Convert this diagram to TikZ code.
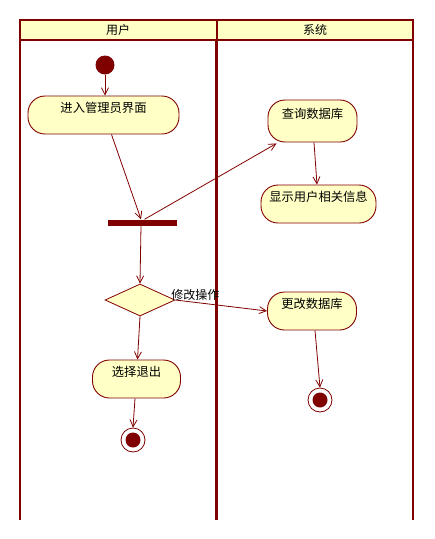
\documentclass[tikz,border=0pt]{standalone}
\usepackage{fontspec}
\setmainfont{Noto Sans CJK SC}
\usetikzlibrary{arrows.meta,shapes.geometric}
\definecolor{umlred}{HTML}{800000}
\definecolor{umlfill}{HTML}{FFFFC6}
\tikzset{
  lane/.style={draw=umlred, line width=2pt},
  divider/.style={draw=umlred, line width=3.6pt},
  activity/.style={draw=umlred, fill=umlfill, line width=0.9pt, rounded corners=17pt,
    inner sep=0pt, text height=10pt, text depth=16pt, font=\fontsize{12.3}{12}\selectfont},
  flow/.style={draw=umlred, line width=0.8pt, -{Straight Barb[length=7pt,width=7pt]}},
  startdot/.style={circle, fill=umlred, minimum size=19pt, inner sep=0pt},
  enddot/.style={circle, draw=umlred, fill=white, line width=0.8pt, minimum size=24pt, inner sep=0pt,
    path picture={\fill[umlred] (path picture bounding box.center) circle (7.5pt);}},
  forkbar/.style={fill=umlred, minimum width=69pt, minimum height=6pt, inner sep=0pt},
  choice/.style={diamond, draw=umlred, fill=umlfill, line width=0.8pt, aspect=2.2,
    minimum width=70pt, minimum height=32pt, inner sep=0pt},
  lanetitle/.style={font=\fontsize{12}{12}\selectfont, inner sep=0pt},
  guard/.style={font=\fontsize{12}{12}\selectfont, inner sep=0pt}
}
\begin{document}
\begin{tikzpicture}[x=1pt, y=-1pt]
  \useasboundingbox (0,0) rectangle (435,539);
  % swimlane frame
  \fill[umlfill] (20,20) rectangle (413,40);
  \draw[lane] (20,520) -- (20,20) -- (413,20) -- (413,520);
  \draw[lane] (20,40) -- (413,40);
  \draw[lane] (216.5,20) -- (216.5,40);
  \draw[divider] (216.5,40) -- (216.5,520);
  \node[lanetitle] (laneuser) at (118,30) {用户};
  \node[lanetitle] (lanesys) at (315,30) {系统};

  % user lane
  \node[startdot] (start) at (105,65) {};
  \node[activity, minimum width=151pt, minimum height=38pt] (enter) at (103.5,115) {进入管理员界面};
  \node[forkbar] (fork) at (142.5,222.5) {};
  \node[choice] (dec) at (140,300) {};
  \node[activity, minimum width=88pt, minimum height=38pt] (quit) at (136.5,379) {选择退出};
  \node[enddot] (end1) at (133,440) {};

  % system lane
  \node[activity, minimum width=89pt, minimum height=42pt] (query) at (312.5,121) {查询数据库};
  \node[activity, minimum width=115pt, minimum height=38pt] (show) at (318.5,204) {显示用户相关信息};
  \node[activity, minimum width=89pt, minimum height=38pt] (update) at (312,311) {更改数据库};
  \node[enddot] (end2) at (320,400) {};

  % control flows
  \draw[flow] (start) -- (enter.north -| start);
  \draw[flow] ([xshift=8pt]enter.south) -- ([xshift=-1.5pt]fork.north);
  \draw[flow] ([xshift=2pt]fork.north) -- ([xshift=-36pt,yshift=-1pt]query.south);
  \draw[flow] ([xshift=1.5pt]query.south) -- ([xshift=-1.5pt]show.north);
  \draw[flow] ([xshift=-1.5pt]fork.south) -- (dec.north);
  \draw[flow] (dec.east) -- node[guard, pos=0, anchor=south west, xshift=-4.5pt, yshift=-1pt] (guardtxt) {修改操作} (update.west);
  \draw[flow] (dec.south) -- ([xshift=1pt]quit.north);
  \draw[flow] ([xshift=3pt]update.south) -- (end2.north);
  \draw[flow] ([xshift=-1.5pt]quit.south) -- (end1.north);
\end{tikzpicture}
\end{document}
